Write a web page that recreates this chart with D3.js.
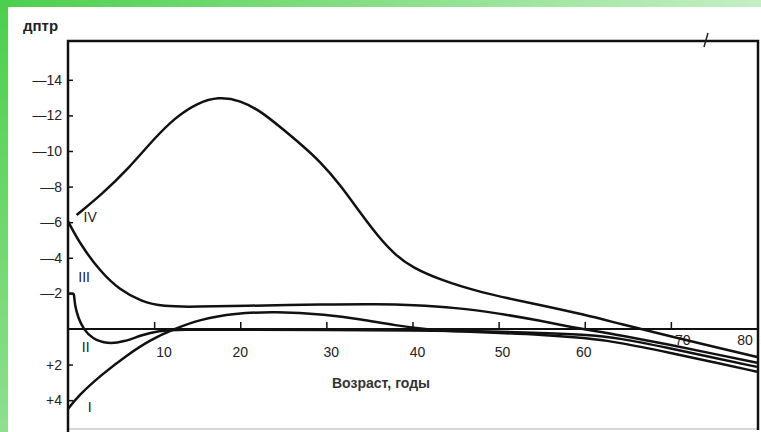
<!DOCTYPE html>
<html>
<head>
<meta charset="utf-8">
<script src="https://cdn.jsdelivr.net/npm/d3@7"></script>
<style>
  body { margin: 0; background: #fff; }
  svg { display: block; font-family: "Liberation Sans", Arial, sans-serif; }
</style>
</head>
<body>
<div id="chart"></div>
<script>
// Refraction (diopters) vs age, four curves I..IV
const ages_I   = [0, 1.1, 3.8, 6.9, 9.6, 12.3, 15.4, 19.3, 24, 30, 34, 38, 42, 46, 50, 55, 60, 64, 70, 75, 80];
const values_I = [4.5, 3.8, 2.6, 1.45, 0.6, 0.0, -0.55, -0.88, -0.98, -0.82, -0.55, -0.2, 0.05, 0.15, 0.22, 0.32, 0.5, 0.75, 1.35, 1.87, 2.4];

const ages_II   = [0, 0.6, 0.7, 0.8, 1.2, 1.8, 2.8, 4.6, 6.5, 8.5, 10.5, 13, 20, 30, 40, 48, 54, 60, 64, 70, 75, 80];
const values_II = [-2.0, -2.0, -2.0, -1.3, -0.6, 0.0, 0.55, 0.85, 0.72, 0.35, 0.1, 0.04, 0.04, 0.05, 0.08, 0.12, 0.2, 0.32, 0.5, 1.1, 1.62, 2.13];

const ages_III   = [0, 1.5, 3.8, 6, 8.5, 11, 15, 20, 30, 36, 40, 45, 50, 55, 58, 61, 64, 70, 75, 80];
const values_III = [-6.05, -4.7, -3.2, -2.2, -1.55, -1.25, -1.25, -1.3, -1.38, -1.4, -1.35, -1.2, -0.88, -0.45, -0.15, 0.1, 0.34, 0.9, 1.4, 1.9];

const ages_IV   = [1, 4, 7, 10, 12.5, 15, 17.5, 20, 22.5, 25, 27, 29.3, 31.6, 33.9, 36, 38, 40, 43, 47.8, 54.8, 60, 64, 70, 75, 80];
const values_IV = [-6.4, -7.6, -9.0, -10.7, -11.9, -12.7, -13.05, -12.85, -12.2, -11.2, -10.4, -9.4, -8.1, -6.55, -5.2, -4.15, -3.45, -2.8, -2.05, -1.35, -0.8, -0.3, 0.42, 1.0, 1.57];

const curveNames = ["I", "II", "III", "IV"];
const xTicks = [10, 20, 30, 40, 50, 60, 70, 80];
const yTicks = [-14, -12, -10, -8, -6, -4, -2, 2, 4];

const width = 761, height = 432;
const frame = { left: 68, right: 757, top: 41, bottom: 429 };

const svg = d3.select("#chart").append("svg")
  .attr("width", width)
  .attr("height", height);

// green slide decoration
const defs = svg.append("defs");
const gTop = defs.append("linearGradient").attr("id", "gTop");
gTop.append("stop").attr("offset", "0%").attr("stop-color", "#4ccf4c");
gTop.append("stop").attr("offset", "100%").attr("stop-color", "#c4efc4");
const gLeft = defs.append("linearGradient").attr("id", "gLeft")
  .attr("x1", 0).attr("y1", 0).attr("x2", 0).attr("y2", 1);
gLeft.append("stop").attr("offset", "0%").attr("stop-color", "#4ccf4c");
gLeft.append("stop").attr("offset", "100%").attr("stop-color", "#8fdf8f");
svg.append("rect").attr("x", 0).attr("y", 0).attr("width", width).attr("height", 7).attr("fill", "url(#gTop)");
svg.append("rect").attr("x", 0).attr("y", 0).attr("width", 8).attr("height", height).attr("fill", "url(#gLeft)");

const x = d3.scaleLinear().domain([0, 80]).range([frame.left, frame.right]);
const y = d3.scaleLinear().domain([-16.18, 5.62]).range([frame.top, frame.bottom]);

// frame
svg.append("line")
  .attr("x1", frame.left).attr("x2", frame.right)
  .attr("y1", frame.bottom).attr("y2", frame.bottom)
  .attr("stroke", "#c8c8c8").attr("stroke-width", 1.5);
svg.append("path")
  .attr("d", `M${frame.left},${height}V${frame.top}H${frame.right + 1}V${frame.bottom + 1}`)
  .attr("fill", "none").attr("stroke", "#111").attr("stroke-width", 2.5);

// scan mark on top border
svg.append("line")
  .attr("x1", 704).attr("y1", 47).attr("x2", 708).attr("y2", 33)
  .attr("stroke", "#222").attr("stroke-width", 1.5);

// zero line with age ticks
svg.append("line")
  .attr("x1", x(0)).attr("x2", x(80))
  .attr("y1", y(0)).attr("y2", y(0))
  .attr("stroke", "#111").attr("stroke-width", 2);

const xAxis = svg.append("g")
  .attr("transform", `translate(0,${y(0)})`)
  .call(d3.axisTop(x).tickValues(xTicks.filter(d => d < 80)).tickSize(7).tickFormat(""));
xAxis.select(".domain").remove();
xAxis.selectAll("line").attr("stroke", "#111").attr("stroke-width", 1.5);

// age labels sit a little off their ticks in the original
const xNudge = { 10: [10, 0], 20: [0, 0], 30: [5, 0], 40: [5, 0], 50: [4, 0], 60: [-1, 0], 70: [12, -12], 80: [-12, -12] };
svg.append("g").selectAll("text")
  .data(xTicks)
  .join("text")
    .attr("x", d => x(d) + xNudge[d][0])
    .attr("y", d => y(0) + 28 + xNudge[d][1])
    .attr("text-anchor", "middle")
    .attr("font-size", 14)
    .attr("fill", "#222")
    .attr("stroke", "#fff").attr("stroke-width", 3).attr("paint-order", "stroke")
    .text(d => d);

// diopter axis
const yAxis = svg.append("g")
  .attr("transform", `translate(${frame.left},0)`)
  .call(d3.axisLeft(y).tickValues(yTicks).tickSize(-5).tickPadding(6)
    .tickFormat(d => (d < 0 ? "\u2014" + (-d) : "+" + d)));
yAxis.select(".domain").remove();
yAxis.selectAll("line").attr("stroke", "#111").attr("stroke-width", 1.5);
yAxis.selectAll("text")
  .attr("font-size", 14)
  .attr("font-family", "'Liberation Sans', Arial, sans-serif")
  .attr("fill", "#222");

svg.append("text")
  .attr("x", 23).attr("y", 31)
  .attr("font-size", 15).attr("font-weight", "bold").attr("fill", "#222")
  .text("дптр");

svg.append("text")
  .attr("x", 381).attr("y", 388)
  .attr("text-anchor", "middle")
  .attr("font-size", 14).attr("font-weight", "bold").attr("fill", "#333")
  .text("Возраст, годы");

// curves
const series = [
  { name: "I", ages: ages_I, values: values_I },
  { name: "II", ages: ages_II, values: values_II },
  { name: "III", ages: ages_III, values: values_III },
  { name: "IV", ages: ages_IV, values: values_IV }
];

const line = d3.line()
  .x(d => x(d[0]))
  .y(d => y(d[1]))
  .curve(d3.curveBasis);

svg.append("g").selectAll("path")
  .data(series)
  .join("path")
    .attr("d", s => line(d3.zip(s.ages, s.values)))
    .attr("fill", "none")
    .attr("stroke", "#111")
    .attr("stroke-width", 2.5)
    .attr("stroke-linejoin", "round");

// roman labels next to the curve starts
const labelPos = { I: [2.3, 4.4], II: [1.6, 1.0], III: [1.2, -2.9], IV: [1.8, -6.3] };
svg.append("g").selectAll("text")
  .data(curveNames)
  .join("text")
    .attr("x", d => x(labelPos[d][0]))
    .attr("y", d => y(labelPos[d][1]))
    .attr("dy", "0.35em")
    .attr("font-size", 14)
    .attr("fill", "#222")
    .text(d => d);
</script>
</body>
</html>
